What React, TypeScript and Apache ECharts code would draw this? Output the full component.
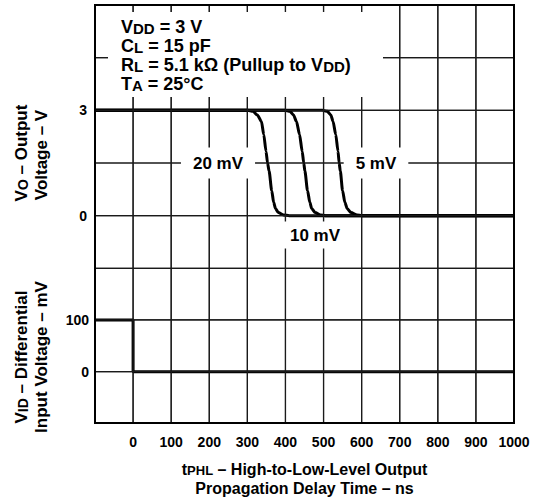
import React, { useEffect, useRef } from 'react';
import * as echarts from 'echarts';

// ---- Data ----
// Time axis (ns)
const xMin = -100;
const xMax = 1000;
const xStep = 100;
const xGridTicks = [0, 100, 200, 300, 400, 500, 600, 700, 800, 900];

// Output voltage V_O (V) vs time (ns) for each input overdrive
const curve20mV: [number, number][] = [
  [-100, 3], [300, 3], [315, 2.97], [326, 2.87], [337, 2.68], [343, 2.31], [349, 1.83],
  [353, 1.5], [357, 1.27], [364, 0.71], [369, 0.38], [374, 0.2], [381, 0.09], [395, 0.02],
  [410, 0], [1000, 0],
];
const curve10mV: [number, number][] = [
  [-100, 3], [398, 3], [412, 2.97], [421, 2.87], [429, 2.68], [437, 2.31], [444, 1.83],
  [448, 1.5], [451, 1.27], [458, 0.71], [464, 0.38], [469, 0.2], [478, 0.09], [492, 0.02],
  [505, 0], [1000, 0],
];
const curve5mV: [number, number][] = [
  [-100, 3], [497, 3], [510, 2.97], [519, 2.87], [525, 2.68], [532, 2.31], [538, 1.83],
  [541, 1.5], [544, 1.27], [550, 0.71], [556, 0.38], [562, 0.2], [572, 0.09], [588, 0.02],
  [600, 0], [1000, 0],
];

// Differential input voltage V_ID (mV) vs time (ns)
const inputStep: [number, number][] = [[-100, 100], [0, 100], [0, 0], [1000, 0]];

// Y-axis ranges / interior grid ticks / shown tick labels
const upperY = { min: -1.5, max: 6, step: 1.5, labels: [0, 3] };
const upperGridTicks = [-1.5, 0, 1.5, 3, 4.5];
const lowerY = { min: -100, max: 200, step: 100, labels: [0, 100] };
const lowerGridTicks = [0, 100];

const curveLabels = ['20 mV', '10 mV', '5 mV'];

const FONT = '"Liberation Sans", Arial, Helvetica, sans-serif';

export default function App() {
  const ref = useRef<HTMLDivElement>(null);

  useEffect(() => {
    if (!ref.current) return;
    const chart = echarts.init(ref.current, undefined, { renderer: 'svg' });

    const tickLabel = () => ({ fontSize: 14, fontWeight: 'bold', color: '#000', fontFamily: FONT });

    const sub = (size: number) => ({
      fontSize: size, fontWeight: 'bold', fontFamily: FONT, fill: '#000',
      lineHeight: 6, verticalAlign: 'bottom',
    });
    const main = (size: number, lh: number) => ({
      fontSize: size, fontWeight: 'bold', fontFamily: FONT, fill: '#000', lineHeight: lh,
    });

    const curveStyle = () => ({ color: '#000', width: 3 });

    const plainText = (text: string, x: number, y: number, size: number, extra: any = {}) => ({
      type: 'text', z: 60, x, y,
      style: {
        text, textAlign: 'center', textVerticalAlign: 'middle',
        fontSize: size, fontWeight: 'bold', fontFamily: FONT, fill: '#000', ...extra,
      },
    });

    // Grid lines as ordinary line series (two points each), placed by the axes
    const gridSeries: any[] = [];
    const addGrid = (idx: number, yTicks: number[], yMin: number, yMax: number) => {
      xGridTicks.forEach((v) => {
        gridSeries.push({
          type: 'line', xAxisIndex: idx, yAxisIndex: idx, data: [[v, yMin], [v, yMax]],
          showSymbol: false, silent: true, z: 1, clip: false,
          lineStyle: { color: '#1a1a1a', width: 1.2 },
        });
      });
      yTicks.forEach((v) => {
        gridSeries.push({
          type: 'line', xAxisIndex: idx, yAxisIndex: idx, data: [[xMin, v], [xMax, v]],
          showSymbol: false, silent: true, z: 1, clip: false,
          lineStyle: { color: '#1a1a1a', width: 1.2 },
        });
      });
    };
    addGrid(0, upperGridTicks, upperY.min, upperY.max);
    addGrid(1, lowerGridTicks, lowerY.min, lowerY.max);

    const baseGraphics: any[] = [
      // White box behind the conditions text
      { type: 'rect', z: 50, shape: { x: 108, y: 12, width: 275, height: 85 }, style: { fill: '#fff' } },
      {
        type: 'text', z: 60, x: 121, y: 17,
        style: {
          text: '{m|V}{s|DD}{m| = 3 V}\n{m|C}{s|L}{m| = 15 pF}\n{m|R}{s|L}{m| = 5.1 kΩ (Pullup to V}{s|DD}{m|)}\n{m|T}{s|A}{m| = 25°C}',
          textAlign: 'left', textVerticalAlign: 'top',
          rich: { m: main(18, 19), s: sub(15) },
        },
      },
      plainText(curveLabels[0], 218, 163, 17, { backgroundColor: '#fff', padding: [7, 12] }),
      plainText(curveLabels[1], 315, 235, 17, { backgroundColor: '#fff', padding: [5, 8] }),
      plainText(curveLabels[2], 376, 163, 17, { backgroundColor: '#fff', padding: [7, 12] }),
      {
        type: 'text', z: 60, x: 21, y: 153, rotation: Math.PI / 2,
        style: {
          text: '{m|V}{s|O}{m| – Output}', textAlign: 'center', textVerticalAlign: 'middle',
          rich: { m: main(17, 17), s: sub(14) },
        },
      },
      {
        type: 'text', z: 60, x: 41, y: 155, rotation: Math.PI / 2,
        style: { text: '{m|Voltage – V}', textAlign: 'center', textVerticalAlign: 'middle', rich: { m: main(17, 17) } },
      },
      {
        type: 'text', z: 60, x: 21, y: 357, rotation: Math.PI / 2,
        style: {
          text: '{m|V}{s|ID}{m| – Differential}', textAlign: 'center', textVerticalAlign: 'middle',
          rich: { m: main(17, 17), s: sub(14) },
        },
      },
      {
        type: 'text', z: 60, x: 41, y: 357, rotation: Math.PI / 2,
        style: { text: '{m|Input Voltage – mV}', textAlign: 'center', textVerticalAlign: 'middle', rich: { m: main(17, 17) } },
      },
      {
        type: 'text', z: 60, x: 304.5, y: 469,
        style: {
          text: '{m|t}{s|PHL}{m| – High-to-Low-Level Output}', textAlign: 'center', textVerticalAlign: 'middle',
          rich: { m: main(16, 16), s: sub(13) },
        },
      },
      plainText('Propagation Delay Time – ns', 304.5, 488, 16),
      { type: 'rect', z: 100, shape: { x: 95, y: 5, width: 419, height: 418 }, style: { fill: 'none', stroke: '#000', lineWidth: 2 } },
    ];

    chart.setOption({
      animation: false,
      grid: [
        { left: 95, top: 5, width: 419, height: 263.3, show: false },
        { left: 95, top: 268.3, width: 419, height: 155, show: false },
      ],
      xAxis: [
        {
          gridIndex: 0, type: 'value', min: xMin, max: xMax, interval: xStep,
          axisLine: { show: false }, axisTick: { show: false }, axisLabel: { show: false },
          splitLine: { show: false },
        },
        {
          gridIndex: 1, type: 'value', min: xMin, max: xMax, interval: xStep,
          axisLine: { show: false }, axisTick: { show: false },
          axisLabel: {
            ...tickLabel(), margin: 12, showMaxLabel: true, showMinLabel: true,
            formatter: (v: number) => (v < 0 ? '' : String(v)),
          },
          splitLine: { show: false },
        },
      ],
      yAxis: [
        {
          gridIndex: 0, type: 'value', min: upperY.min, max: upperY.max, interval: upperY.step,
          axisLine: { show: false }, axisTick: { show: false },
          axisLabel: { ...tickLabel(), margin: 8, formatter: (v: number) => (upperY.labels.includes(v) ? String(v) : '') },
          splitLine: { show: false },
        },
        {
          gridIndex: 1, type: 'value', min: lowerY.min, max: lowerY.max, interval: lowerY.step,
          axisLine: { show: false }, axisTick: { show: false },
          axisLabel: { ...tickLabel(), margin: 6, formatter: (v: number) => (lowerY.labels.includes(v) ? String(v) : '') },
          splitLine: { show: false },
        },
      ],
      series: [
        ...gridSeries,
        { type: 'line', name: curveLabels[0], xAxisIndex: 0, yAxisIndex: 0, data: curve20mV, showSymbol: false, smooth: 0.25, smoothMonotone: 'x', lineStyle: curveStyle(), z: 5 },
        { type: 'line', name: curveLabels[1], xAxisIndex: 0, yAxisIndex: 0, data: curve10mV, showSymbol: false, smooth: 0.25, smoothMonotone: 'x', lineStyle: curveStyle(), z: 5 },
        { type: 'line', name: curveLabels[2], xAxisIndex: 0, yAxisIndex: 0, data: curve5mV, showSymbol: false, smooth: 0.25, smoothMonotone: 'x', lineStyle: curveStyle(), z: 5 },
        { type: 'line', name: 'VID', xAxisIndex: 1, yAxisIndex: 1, data: inputStep, showSymbol: false, lineStyle: curveStyle(), z: 5 },
      ],
      graphic: baseGraphics,
    });

    // Second layer of grid lines: graphic lines whose pixel positions come from the axes
    try {
      const lines: any[] = [];
      const pushGrid = (idx: number, yTicks: number[], yMin: number, yMax: number) => {
        const finder = { xAxisIndex: idx, yAxisIndex: idx };
        xGridTicks.forEach((v) => {
          const a = chart.convertToPixel(finder, [v, yMin]) as number[];
          const b = chart.convertToPixel(finder, [v, yMax]) as number[];
          if (a && b) lines.push({ type: 'line', z: 45, silent: true, shape: { x1: a[0], y1: a[1], x2: b[0], y2: b[1] }, style: { stroke: '#1a1a1a', lineWidth: 1.2 } });
        });
        yTicks.forEach((v) => {
          const a = chart.convertToPixel(finder, [xMin, v]) as number[];
          const b = chart.convertToPixel(finder, [xMax, v]) as number[];
          if (a && b) lines.push({ type: 'line', z: 45, silent: true, shape: { x1: a[0], y1: a[1], x2: b[0], y2: b[1] }, style: { stroke: '#1a1a1a', lineWidth: 1.2 } });
        });
      };
      pushGrid(0, upperGridTicks, upperY.min, upperY.max);
      pushGrid(1, lowerGridTicks, lowerY.min, lowerY.max);
      chart.setOption({ graphic: [...baseGraphics, ...lines] });
    } catch (e) {
      // keep the chart as drawn
    }

    return () => chart.dispose();
  }, []);

  return <div ref={ref} style={{ position: 'absolute', left: 0, top: 0, width: 540, height: 501, background: '#fff' }} />;
}
